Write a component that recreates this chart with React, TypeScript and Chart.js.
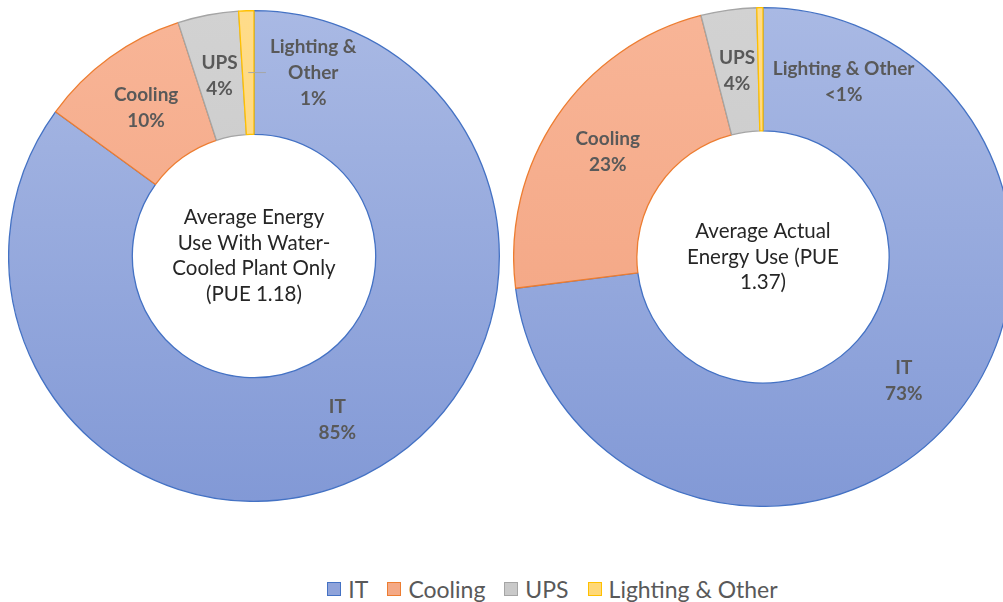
import React, { useEffect, useRef } from "react";
import { Chart, registerables } from "chart.js";

Chart.register(...registerables);

const categories = ["IT", "Cooling", "UPS", "Lighting & Other"];
const leftValues = [85, 10, 4, 1];
const rightValues = [73, 23, 3.6, 0.4];
const leftLabelText = [["IT", "85%"], ["Cooling", "10%"], ["UPS", "4%"], ["Lighting &", "Other", "1%"]];
const rightLabelText = [["IT", "73%"], ["Cooling", "23%"], ["UPS", "4%"], ["Lighting & Other", "<1%"]];
const leftCenterText = ["Average Energy", "Use With Water-", "Cooled Plant Only", "(PUE 1.18)"];
const rightCenterText = ["Average Actual", "Energy Use (PUE", "1.37)"];

const fillTop = ["#A9B9E4", "#F8B597", "#D2D2D2", "#FFDC8A"];
const fillBottom = ["#8299D6", "#F2A07C", "#C4C4C4", "#FFD36A"];
const borders = ["#4472C4", "#ED7D31", "#A5A5A5", "#FFC000"];
const legendFill = ["#8FA3DA", "#F4A986", "#C9C9C9", "#FFD877"];

const FONT = "Lato, 'Liberation Sans', sans-serif";

type LabelCfg = {
  texts: string[][];
  center: string[];
  offsets: ({ dx: number; dy: number; leader: boolean } | null)[];
};

const labelPlugin = {
  id: "ringLabels",
  afterDatasetsDraw(chart: any, _args: any, opts: LabelCfg) {
    const ctx = chart.ctx;
    const meta = chart.getDatasetMeta(0);
    const lh = 26;
    ctx.save();
    ctx.textAlign = "center";
    ctx.textBaseline = "middle";
    meta.data.forEach((arc: any, i: number) => {
      const tp = arc.tooltipPosition();
      const lines = opts.texts[i];
      const off = opts.offsets[i];
      let x = tp.x;
      let y = tp.y;
      ctx.font = `bold 19px ${FONT}`;
      if (off) {
        x += off.dx;
        y += off.dy;
        if (off.leader) {
          let w = 0;
          lines.forEach((l) => (w = Math.max(w, ctx.measureText(l).width)));
          ctx.strokeStyle = "#A6A6A6";
          ctx.lineWidth = 1;
          ctx.beginPath();
          ctx.moveTo(tp.x, tp.y);
          ctx.lineTo(x - w / 2 - 4, tp.y);
          ctx.stroke();
        }
      }
      ctx.fillStyle = "#595959";
      const y0 = y - ((lines.length - 1) * lh) / 2;
      lines.forEach((l, k) => ctx.fillText(l, x, y0 + k * lh));
    });
    const cx = (chart.chartArea.left + chart.chartArea.right) / 2;
    const cy = (chart.chartArea.top + chart.chartArea.bottom) / 2;
    ctx.font = `20.5px ${FONT}`;
    ctx.fillStyle = "#262626";
    const clh = 25.5;
    const c0 = cy - ((opts.center.length - 1) * clh) / 2;
    opts.center.forEach((l, k) => ctx.fillText(l, cx, c0 + k * clh));
    ctx.restore();
  },
};

function gradientFill(c: any) {
  const i = c.dataIndex ?? 0;
  const chart = c.chart;
  const area = chart.chartArea;
  if (!area) return fillBottom[i];
  const g = chart.ctx.createLinearGradient(0, area.top, 0, area.bottom);
  g.addColorStop(0, fillTop[i]);
  g.addColorStop(1, fillBottom[i]);
  return g;
}

function Ring(props: {
  values: number[];
  size: number;
  cutout: string;
  left: number;
  top: number;
  cfg: LabelCfg;
}) {
  const ref = useRef<HTMLCanvasElement>(null);
  useEffect(() => {
    const chart = new Chart(ref.current!, {
      type: "doughnut",
      data: {
        labels: categories,
        datasets: [
          {
            data: props.values,
            backgroundColor: gradientFill as any,
            borderColor: borders,
            borderWidth: 1.3,
          },
        ],
      },
      options: {
        responsive: false,
        animation: false,
        cutout: props.cutout,
        layout: { padding: 0 },
        plugins: {
          legend: { display: false },
          tooltip: { enabled: false },
          ringLabels: props.cfg,
        } as any,
      },
      plugins: [labelPlugin],
    });
    return () => chart.destroy();
  }, []);
  return (
    <canvas
      ref={ref}
      width={props.size}
      height={props.size}
      style={{ position: "absolute", left: props.left, top: props.top, width: props.size, height: props.size }}
    />
  );
}

export default function App() {
  return (
    <div
      style={{
        position: "fixed",
        left: 0,
        top: 0,
        width: 1003,
        height: 602,
        overflow: "hidden",
        background: "#fff",
      }}
    >
      <Ring
        values={leftValues}
        size={492}
        cutout="49.6%"
        left={8}
        top={10}
        cfg={{
          texts: leftLabelText,
          center: leftCenterText,
          offsets: [null, null, null, { dx: 65, dy: 0, leader: true }],
        }}
      />
      <Ring
        values={rightValues}
        size={500}
        cutout="50.6%"
        left={513}
        top={7}
        cfg={{
          texts: rightLabelText,
          center: rightCenterText,
          offsets: [null, null, null, { dx: 83, dy: 13, leader: false }],
        }}
      />
      <div
        style={{
          position: "absolute",
          left: 0,
          width: 1003,
          top: 575,
          display: "flex",
          justifyContent: "center",
          fontFamily: FONT,
          fontSize: 23,
          color: "#595959",
          lineHeight: "28px",
          paddingLeft: 102,
          boxSizing: "border-box",
        }}
      >
        {categories.map((c, i) => (
          <span key={c} style={{ display: "flex", alignItems: "center", marginRight: i < 3 ? 19 : 0 }}>
            <span
              style={{
                display: "inline-block",
                width: 12,
                height: 12,
                background: legendFill[i],
                border: `1px solid ${borders[i]}`,
                marginRight: 7,
              }}
            />
            {c}
          </span>
        ))}
      </div>
    </div>
  );
}
